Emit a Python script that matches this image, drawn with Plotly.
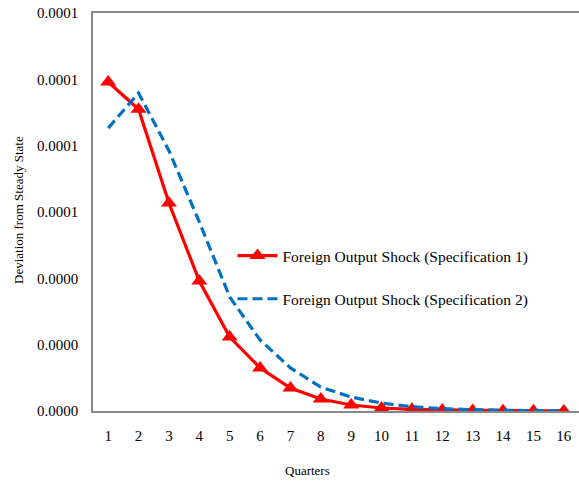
import plotly.graph_objects as go

quarters = list(range(1, 17))
spec1 = [9.92e-5, 9.1e-5, 6.27e-5, 3.92e-5, 2.23e-5, 1.30e-5, 0.69e-5, 0.36e-5,
         0.18e-5, 0.09e-5, 0.05e-5, 0.03e-5, 0.015e-5, 0.01e-5, 0.005e-5, 0.003e-5]
spec2 = [8.53e-5, 9.59e-5, 7.85e-5, 5.7e-5, 3.44e-5, 2.14e-5, 1.30e-5, 0.72e-5,
         0.42e-5, 0.24e-5, 0.13e-5, 0.07e-5, 0.04e-5, 0.02e-5, 0.01e-5, 0.005e-5]
ytick_vals = [0, 2e-5, 4e-5, 6e-5, 8e-5, 1e-4, 1.2e-4]

font = "Liberation Serif, Times New Roman, serif"

# body margin is removed in post_script, so the figure fills the window
W, H = 579, 485
L, T, B = 93, 13, 74
pw, ph = W - L, H - T - B
y0 = H - B  # pixel row of the x axis

fig = go.Figure()
fig.add_trace(go.Scatter(x=quarters, y=spec1, mode="lines+markers",
                         name="Foreign Output Shock (Specification 1)",
                         line=dict(color="#FF0000", width=3.2),
                         marker=dict(symbol="triangle-up", size=14, color="#FF0000"),
                         legendgroup="a"))
fig.add_trace(go.Scatter(x=quarters, y=spec2, mode="lines",
                         name="Foreign Output Shock (Specification 2)",
                         line=dict(color="#0070C0", width=3.2, dash="10px,5px"),
                         legendgroup="b"))

fig.update_layout(
    width=W, height=H,
    margin=dict(l=L, r=0, t=T, b=B),
    paper_bgcolor="white", plot_bgcolor="white",
    font=dict(family=font, size=15, color="#000"),
    legend=dict(x=(232.5 - L) / pw, y=(y0 - 277.5) / ph, xanchor="left",
                yanchor="middle", bgcolor="rgba(0,0,0,0)", traceorder="grouped",
                tracegroupgap=20, itemwidth=40,
                font=dict(family=font, size=15.5, color="#000")),
    xaxis=dict(range=[0.5, 16.5], tickvals=quarters, showgrid=False, zeroline=False,
               showline=True, mirror=True, linecolor="#898989", linewidth=2, ticks="",
               ticklabelstandoff=10, tickfont=dict(size=15), automargin=False),
    yaxis=dict(range=[0, 1.2e-4 * 1.0001], tickvals=ytick_vals, tickformat=".4f",
               showgrid=False, zeroline=False, showline=True, linecolor="#898989",
               linewidth=1.5, ticks="", ticklabelstandoff=10, tickfont=dict(size=15),
               ticklabeloverflow="allow", automargin=False),
    annotations=[
        dict(text="Quarters", x=(307 - L) / pw, y=(y0 - 470) / ph, xref="paper",
             yref="paper", xanchor="center", yanchor="middle", showarrow=False,
             font=dict(size=13)),
        dict(text="Deviation from Steady State", textangle=-90, x=(18 - L) / pw,
             y=(y0 - 210) / ph, xref="paper", yref="paper", xanchor="center",
             yanchor="middle", showarrow=False, font=dict(size=13)),
    ],
)

fig.write_html("out.html", config={"displayModeBar": False},
               post_script="document.body.style.margin='0';")
